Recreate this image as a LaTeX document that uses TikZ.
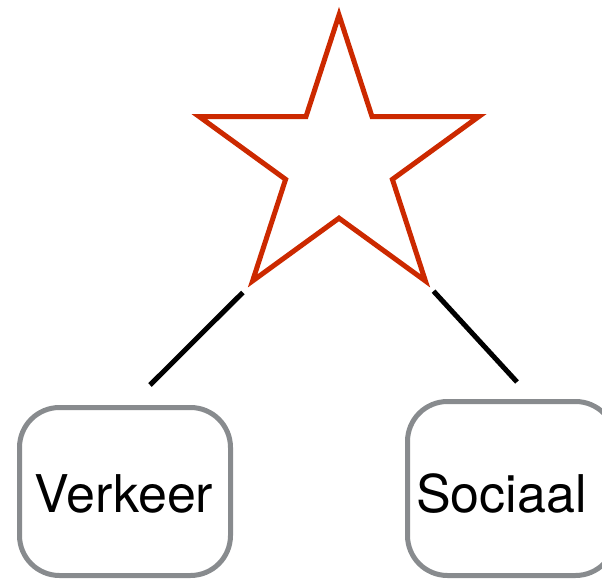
\documentclass[tikz,border=0pt]{standalone}
\usepackage{fontspec}
\setsansfont{TeX Gyre Heros}
\RequirePackage{xcolor}
\definecolor{starred}{RGB}{204,41,0}
\definecolor{boxgray}{RGB}{136,139,142}
\tikzset{every picture/.style={/utils/exec={\sffamily}}}
\usetikzlibrary{calc}
\usetikzlibrary{positioning}
\usetikzlibrary{shapes.geometric}

\begin{document}
\begin{tikzpicture}[x=1pt,y=-1pt,
    topic/.style={draw=boxgray, line width=5pt, rounded corners=40pt, fill=white},
    word/.style={font=\fontsize{52}{60}\selectfont, inner sep=0pt}]
  \useasboundingbox (0,0) rectangle (602,580);

  \node [star, star points=5, star point ratio=2.618, minimum size=294pt,
         inner sep=0pt, draw=starred, line width=5pt, fill=white] (goal) at (339,162) {};

  % the two boxes below the star
  \node [topic, minimum width=211pt, minimum height=168pt] (verkeer) at (125,491.5) {};
  \node [topic, minimum width=208pt, minimum height=174pt] (sociaal) at (511.5,488.5) {};
  \node [word, anchor=base] at (124,512) {Verkeer};
  \node [word, anchor=base] at (501.5,512) {Sociaal};

  \coordinate (vk-top) at (150,385);
  \coordinate (so-top) at (517,382);
  \draw [line width=5pt, shorten <=7pt] (goal.outer point 3) -- (vk-top);
  \draw [line width=5pt, shorten <=5pt] (goal.outer point 4) -- (so-top);
\end{tikzpicture}
\end{document}
